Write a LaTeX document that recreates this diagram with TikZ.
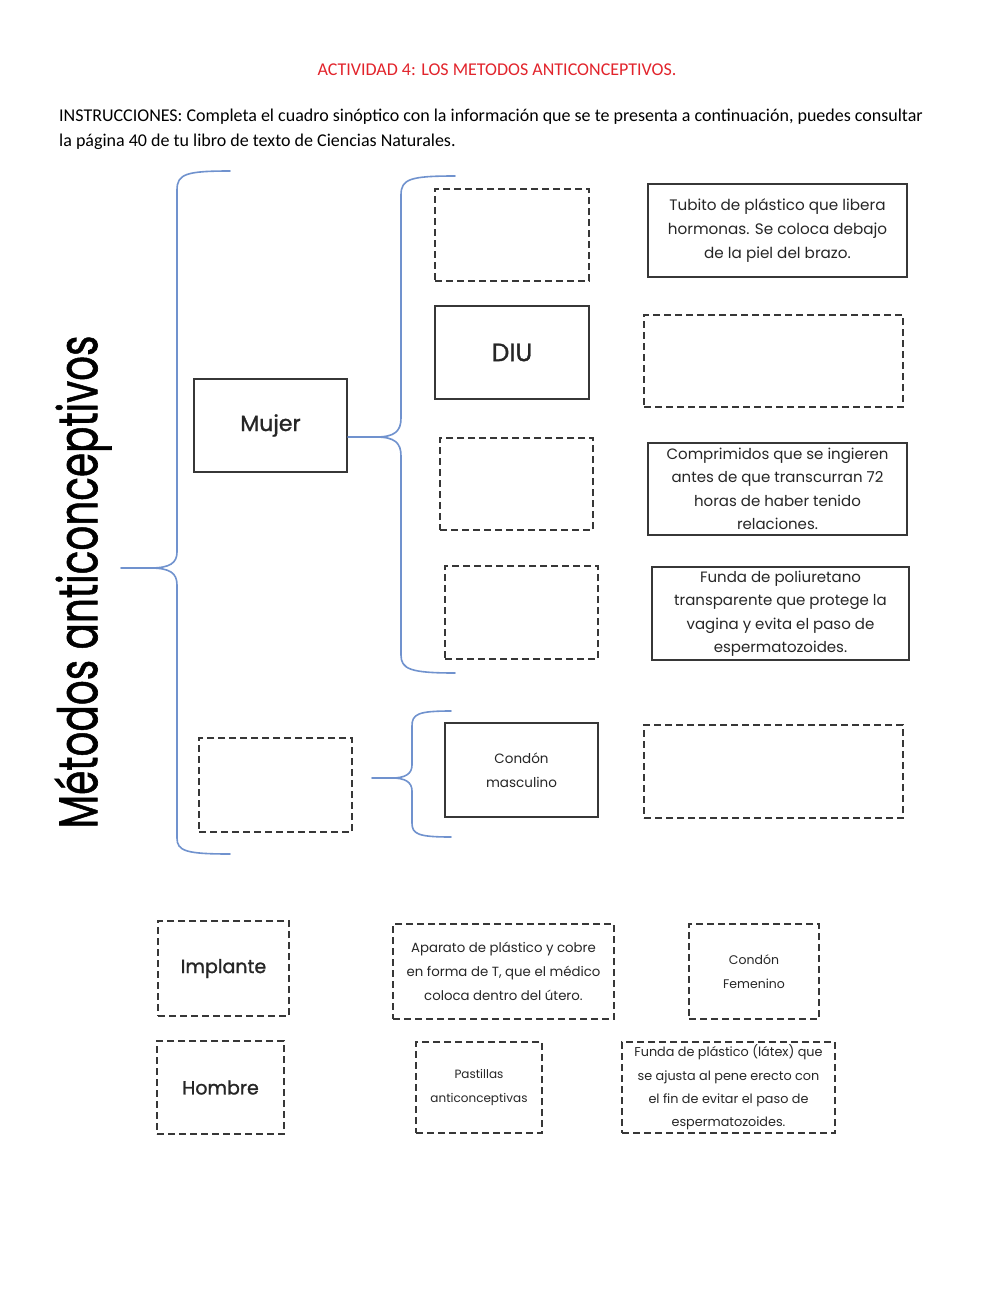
\documentclass[tikz,border=0pt]{standalone}
\usepackage{fontspec}
\setmainfont{Carlito}
\newfontfamily\boxfont{Poppins}
\newfontfamily\heavyfont[FakeBold=1.2]{Poppins}
\definecolor{titlered}{RGB}{226,36,44}
\definecolor{bracecol}{RGB}{112,146,206}
\definecolor{boxline}{RGB}{55,55,55}
\tikzset{
  solidbox/.style={draw=boxline, line width=1.8pt, align=center, inner sep=2pt,
    font=\boxfont\fontsize{15.2}{24}\selectfont, text=black!85},
  dashbox/.style={solidbox, dash pattern=on 7pt off 4pt, line width=1.6pt},
  sz/.style 2 args={minimum width=#1pt, minimum height=#2pt},
  brace/.style={draw=bracecol, line width=1.6pt, line cap=round, line join=round},
  fs/.style={font=\boxfont\fontsize{#1}{24}\selectfont},
  big/.style={font=\heavyfont\fontsize{#1}{24}\selectfont},
}
\begin{document}
\begin{tikzpicture}[x=1pt,y=-1pt]
\fill[white] (0,0) rectangle (1000,1291);
\useasboundingbox (0,0) rectangle (1000,1291);

% header
\node[text=titlered, font=\fontsize{18}{22}\selectfont] (title) at (497,70) {ACTIVIDAD 4: LOS METODOS ANTICONCEPTIVOS.};
\node[anchor=base west, inner sep=0pt, font=\fontsize{18}{22}\selectfont] (instr1) at (59,121) {INSTRUCCIONES: Completa el cuadro sinóptico con la información que se te presenta a continuación, puedes consultar};
\node[anchor=base west, inner sep=0pt, font=\fontsize{18}{22}\selectfont] (instr2) at (59,146) {la página 40 de tu libro de texto de Ciencias Naturales.};

% vertical title
\node[rotate=90, inner sep=0pt, font=\heavyfont\fontsize{39}{42}\selectfont] (metodos) at (83,582) {\scalebox{1}[1.4]{Métodos anticonceptivos}};

% big brace
\draw[brace] (230,171) .. controls (186,171) and (177,174) .. (177,190) -- (177,552)
  .. controls (177,563) and (170,568) .. (150,568) -- (121,568);
\draw[brace] (150,568) .. controls (170,568) and (177,573) .. (177,585) -- (177,838)
  .. controls (177,851) and (186,854) .. (230,854);

% level 1
\node[solidbox, sz={153}{93}, big=22] (mujer) at (270.5,425.5) {Mujer};
\node[dashbox, sz={153}{94}] (hombreslot) at (275.5,785) {};

% Mujer brace
\coordinate (mtip) at (376,437);
\draw[brace] (455,176) .. controls (410,176) and (401,179) .. (401,195) -- (401,418)
  .. controls (401,431) and (395,437) .. (mtip) -- (mujer.east |- mtip);
\draw[brace] (mtip) .. controls (395,437) and (401,443) .. (401,456) -- (401,655)
  .. controls (401,669) and (410,673) .. (455,673);

% hombre brace
\coordinate (htip) at (372,778);
\draw[brace] (451,711) .. controls (418,711) and (412,714) .. (412,726) -- (412,765)
  .. controls (412,774) and (405,778) .. (392,778) -- (htip);
\draw[brace] (392,778) .. controls (405,778) and (412,782) .. (412,791) -- (412,823)
  .. controls (412,834) and (418,837) .. (451,837);

% level 2
\node[dashbox, sz={154}{92}] (m1) at (512,235) {};
\node[solidbox, sz={154}{93}, big=25] (diu) at (512,352.5) {DIU};
\node[dashbox, sz={153}{92}] (m3) at (516.5,484) {};
\node[dashbox, sz={153}{93}] (m4) at (521.5,612.5) {};
\node[solidbox, sz={153}{94}, fs=13.5] (condonm) at (521.5,770) {Condón\\masculino};

% level 3
\node[solidbox, sz={259}{93}] (r1) at (777.5,230.5) {Tubito de plástico que libera\\hormonas. Se coloca debajo\\de la piel del brazo.};
\node[dashbox, sz={259}{92}] (r2) at (773.5,361) {};
\node[solidbox, sz={259}{92}, font=\boxfont\fontsize{15}{23.5}\selectfont] (r3) at (777.5,489) {Comprimidos que se ingieren\\antes de que transcurran 72\\horas de haber tenido\\relaciones.};
\node[solidbox, sz={257}{93}, font=\boxfont\fontsize{15}{23.5}\selectfont] (r4) at (780.5,613.5) {Funda de poliuretano\\transparente que protege la\\vagina y evita el paso de\\espermatozoides.};
\node[dashbox, sz={259}{93}] (r5) at (773.5,771.5) {};

% word bank
\node[dashbox, sz={131}{95}, big=19] (implante) at (223.5,968.5) {Implante};
\node[dashbox, sz={221}{95}, fs=13.3] (aparato) at (503.5,971.5) {Aparato de plástico y cobre\\en forma de T, que el médico\\coloca dentro del útero.};
\node[dashbox, sz={130}{95}, fs=12.5] (condonf) at (754,971.5) {Condón\\Femenino};
\node[dashbox, sz={127}{93}, big=19] (hombre) at (220.5,1087.5) {Hombre};
\node[dashbox, sz={126}{91}, fs=12] (pastillas) at (479,1087.5) {Pastillas\\anticonceptivas};
\node[dashbox, sz={213}{91}, font=\boxfont\fontsize{12.8}{23.3}\selectfont] (funda) at (728.5,1087.5) {Funda de plástico (látex) que\\se ajusta al pene erecto con\\el fin de evitar el paso de\\espermatozoides.};
\end{tikzpicture}
\end{document}
